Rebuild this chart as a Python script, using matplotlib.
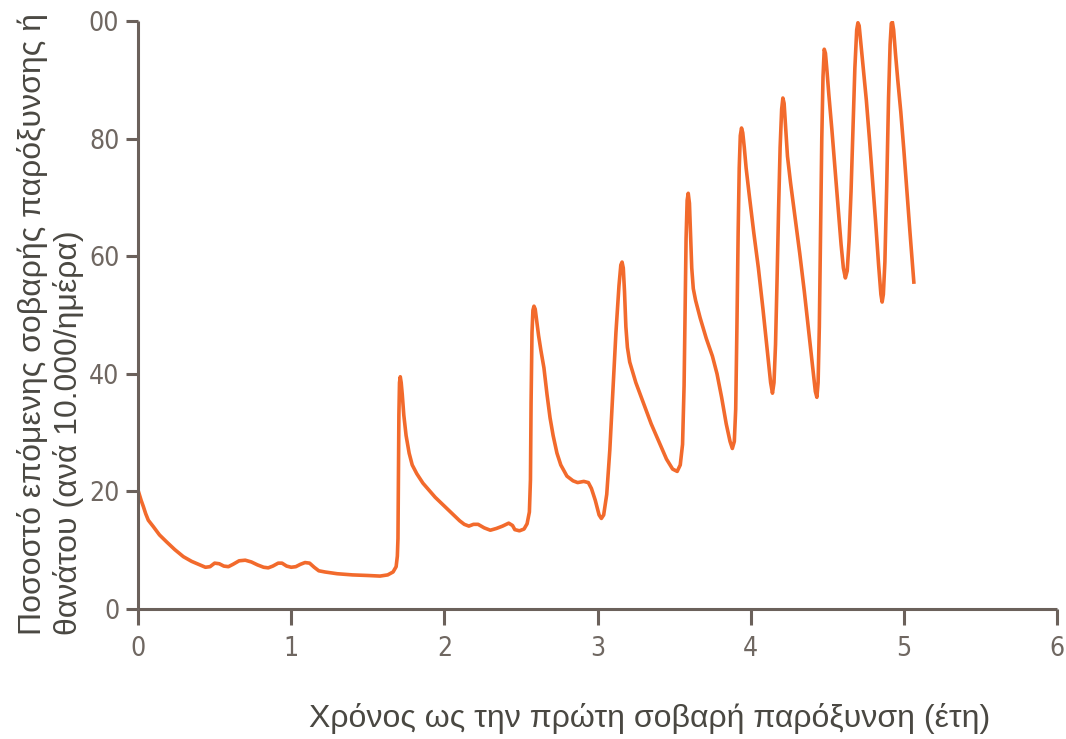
import matplotlib
matplotlib.use("Agg")
import matplotlib.pyplot as plt

# du lieu doc tu hinh (nam, ty le /10.000/ngay)
nam = [0.00, 0.02, 0.035, 0.05, 0.067, 0.10, 0.14, 0.187, 0.24, 0.296, 0.35, 0.405, 0.44,
       0.47, 0.50, 0.53, 0.56, 0.59, 0.62, 0.66, 0.70, 0.74, 0.78, 0.82, 0.85, 0.88, 0.915,
       0.94, 0.97, 1.00, 1.03, 1.06, 1.09, 1.12, 1.15, 1.18, 1.22, 1.30, 1.40, 1.50, 1.58,
       1.63, 1.665, 1.685, 1.693, 1.697, 1.700, 1.703, 1.707, 1.712, 1.718, 1.725, 1.735,
       1.75, 1.77, 1.79, 1.82, 1.86, 1.90, 1.94, 1.98, 2.02, 2.06, 2.10, 2.13, 2.16, 2.19,
       2.22, 2.26, 2.30, 2.34, 2.38, 2.42, 2.445, 2.46, 2.49, 2.52, 2.54, 2.555, 2.562,
       2.566, 2.572, 2.578, 2.585, 2.593, 2.603, 2.615, 2.63, 2.65, 2.67, 2.69, 2.71, 2.735,
       2.76, 2.80, 2.84, 2.87, 2.91, 2.94, 2.96, 2.985, 3.01, 3.025, 3.04, 3.06, 3.08, 3.10,
       3.12, 3.14, 3.152, 3.16, 3.168, 3.176, 3.185, 3.195, 3.21, 3.25, 3.30, 3.35, 3.40,
       3.45, 3.49, 3.52, 3.54, 3.555, 3.565, 3.572, 3.578, 3.585, 3.592, 3.60, 3.607, 3.615,
       3.625, 3.64, 3.67, 3.71, 3.75, 3.78, 3.81, 3.84, 3.865, 3.88, 3.893, 3.902, 3.91,
       3.918, 3.925, 3.932, 3.94, 3.948, 3.958, 3.97, 3.99, 4.02, 4.05, 4.08, 4.11, 4.13,
       4.142, 4.152, 4.162, 4.172, 4.182, 4.192, 4.202, 4.21, 4.218, 4.228, 4.24, 4.26,
       4.29, 4.32, 4.35, 4.38, 4.405, 4.422, 4.432, 4.44, 4.448, 4.456, 4.464, 4.472, 4.48,
       4.488, 4.498, 4.51, 4.53, 4.55, 4.57, 4.59, 4.605, 4.618, 4.63, 4.642, 4.655, 4.668,
       4.68, 4.692, 4.70, 4.708, 4.72, 4.735, 4.755, 4.775, 4.795, 4.815, 4.835, 4.85,
       4.858, 4.866, 4.876, 4.888, 4.90, 4.91, 4.918, 4.925, 4.933, 4.945, 4.96, 4.98,
       5.00, 5.02, 5.04, 5.065]
ty_le = [20.2, 18.5, 17.4, 16.2, 15.1, 14.0, 12.6, 11.4, 10.1, 8.9, 8.1, 7.5, 7.1,
         7.2, 7.8, 7.7, 7.3, 7.2, 7.6, 8.2, 8.3, 8.0, 7.5, 7.1, 7.0, 7.3, 7.8,
         7.8, 7.3, 7.1, 7.2, 7.6, 7.9, 7.8, 7.1, 6.5, 6.3, 6.0, 5.8, 5.7, 5.6,
         5.8, 6.3, 7.2, 9.0, 12.0, 22.0, 33.0, 38.5, 39.5, 38.5, 36.5, 33.0,
         29.5, 26.5, 24.5, 23.0, 21.4, 20.2, 19.0, 18.0, 17.0, 16.0, 15.0, 14.4, 14.1, 14.4,
         14.4, 13.8, 13.4, 13.7, 14.1, 14.6, 14.2, 13.5, 13.3, 13.6, 14.5, 16.5, 22.0,
         35.0, 47.0, 50.8, 51.5, 51.0, 49.0, 46.5, 44.0, 41.0, 36.5, 32.5, 29.5, 26.5,
         24.5, 22.6, 21.8, 21.5, 21.7, 21.5, 20.5, 18.5, 16.0, 15.4, 16.0, 19.5, 27.0, 37.0,
         47.0, 55.0, 58.5, 59.0, 58.0, 54.0, 48.0, 44.5, 42.0, 38.5, 35.0, 31.5, 28.5,
         25.5, 23.8, 23.4, 24.5, 28.0, 38.0, 52.0, 63.0, 69.5, 70.7, 69.0, 64.0, 58.0,
         54.5, 52.5, 49.5, 46.0, 43.0, 40.0, 36.0, 31.5, 28.5, 27.3, 28.5, 34.0, 48.0,
         64.0, 75.0, 80.5, 81.8, 81.0, 78.5, 75.0, 70.5, 64.0, 58.0, 51.0, 43.5, 38.5,
         36.7, 38.5, 45.0, 56.0, 68.0, 78.5, 85.0, 86.9, 86.0, 82.0, 77.0, 72.5,
         66.5, 60.5, 54.0, 47.0, 41.0, 37.0, 36.0, 38.5, 48.0, 64.0, 80.0, 90.5, 95.2,
         94.5, 91.5, 87.5, 81.5, 75.0, 68.5, 62.0, 58.0, 56.3, 57.5, 62.5, 71.0, 82.0,
         92.0, 98.5, 99.7, 99.2, 96.0, 92.0, 86.5, 80.0, 73.0, 66.0, 58.5, 53.5,
         52.2, 53.5, 59.0, 72.0, 87.0, 96.0, 99.6, 99.8, 98.5, 94.5, 90.0, 84.5,
         78.0, 71.0, 64.0, 55.6]

x_ticks = [0, 1, 2, 3, 4, 5, 6]
y_ticks = [0, 20, 40, 60, 80, 100]
y_tick_labels = ["0", "20", "40", "60", "80", "00"]

nhan_y = "Ποσοστό επόμενης σοβαρής παρόξυνσης ή\nθανάτου (ανά 10.000/ημέρα)"
nhan_x = "Χρόνος ως την πρώτη σοβαρή παρόξυνση (έτη)"

mau_truc = "#6b615b"
mau_so = "#6f6761"
mau_chu = "#4a4842"

fig = plt.figure(figsize=(10.66, 7.39), dpi=100)
ax = fig.add_axes([0.1295, 0.1759, 0.8621, 0.7957])

ax.plot(nam, ty_le, color="#f26a2c", linewidth=2.6, solid_joinstyle="round")

ax.set_xlim(0, 6)
ax.set_ylim(0, 100)
ax.set_xticks(x_ticks)
ax.set_yticks(y_ticks)
ax.set_yticklabels(y_tick_labels)

for s in ["top", "right"]:
    ax.spines[s].set_visible(False)
for s in ["left", "bottom"]:
    ax.spines[s].set_color(mau_truc)
    ax.spines[s].set_linewidth(2.2)
    ax.spines[s].set_capstyle("butt")

ax.tick_params(axis="x", direction="out", length=11.5, width=2.2, color=mau_truc, pad=8)
ax.tick_params(axis="y", direction="out", length=8.5, width=2.2, color=mau_truc, pad=5)
for t in ax.get_xticklabels() + ax.get_yticklabels():
    t.set_family(["Liberation Sans Narrow", "DejaVu Sans"])
    t.set_stretch("condensed")
    t.set_fontsize(19)
    t.set_color(mau_so)

fig.text(0.047, 0.141, nhan_y, rotation=90, ha="center", va="bottom",
         multialignment="left", fontsize=23, color=mau_chu,
         family=["Liberation Sans", "DejaVu Sans"], linespacing=1.2)
fig.text(0.609, 0.028, nhan_x, ha="center", va="center", fontsize=23,
         color=mau_chu, family=["Liberation Sans", "DejaVu Sans"])

plt.savefig("out.png", dpi=100)
